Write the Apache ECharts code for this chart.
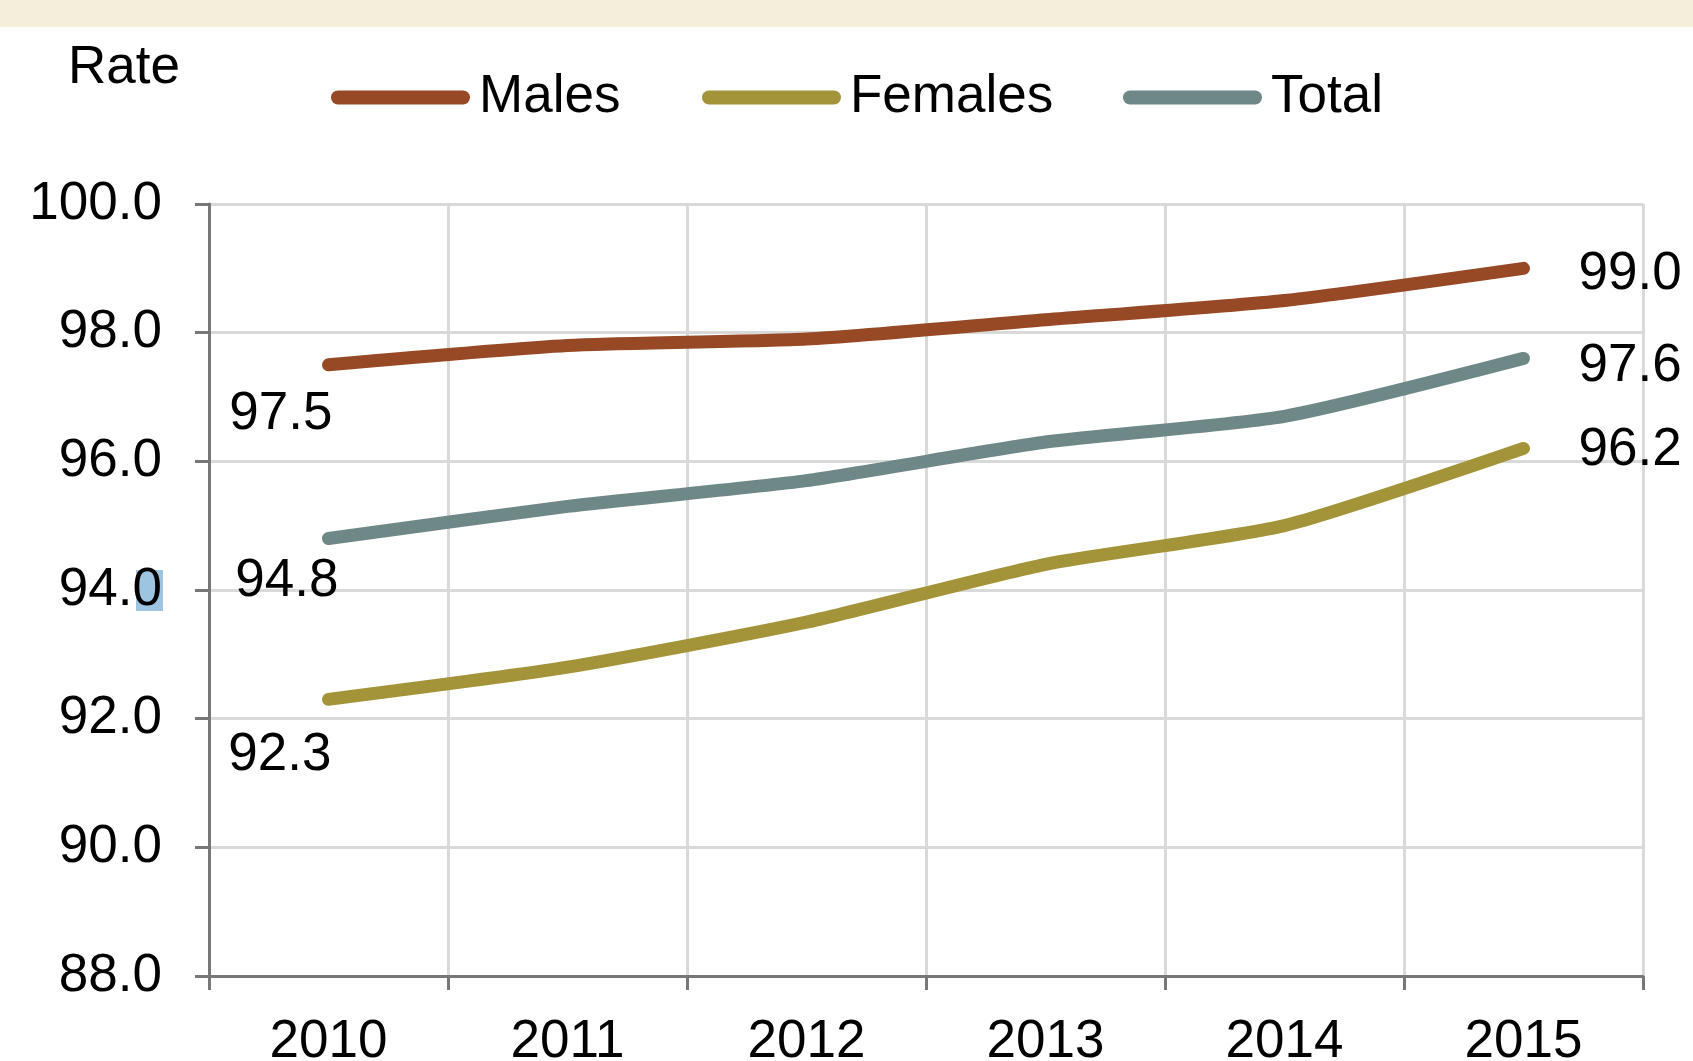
<!DOCTYPE html>
<html>
<head>
<meta charset="utf-8">
<script src="https://cdn.jsdelivr.net/npm/echarts@6/dist/echarts.min.js"></script>
<style>
html,body{margin:0;padding:0;background:#fff;}
#chart{width:1693px;height:1061px;}
</style>
</head>
<body>
<div id="chart"></div>
<script>
const years = ['2010','2011','2012','2013','2014','2015'];
const males = [97.5, 97.8, 97.9, 98.2, 98.5, 99.0];
const females = [92.3, 92.8, 93.5, 94.4, 95.0, 96.2];
const total = [94.8, 95.3, 95.7, 96.3, 96.7, 97.6];
const seriesNames = ['Males', 'Females', 'Total'];
const colors = ['#964924', '#A49439', '#6E8887'];

const FONT = 'Liberation Sans, Arial, sans-serif';
const FS = 53;

// first-point label offsets (below-left), last-point offsets (right); order: Males, Females, Total
const firstOffsets = [[4, 50], [3, 56], [10, 43]];
const lastOffsets = [[55, 6], [55, 2], [55, 8]];

function buildData(vals, idx) {
  return vals.map((v, i) => {
    if (i === 0) {
      return { value: v, label: { show: true, position: 'inside', align: 'right', verticalAlign: 'middle', offset: firstOffsets[idx], formatter: p => p.value.toFixed(1) } };
    }
    if (i === vals.length - 1) {
      return { value: v, label: { show: true, position: 'inside', align: 'left', verticalAlign: 'middle', offset: lastOffsets[idx], formatter: p => p.value.toFixed(1) } };
    }
    return v;
  });
}

const chart = echarts.init(document.getElementById('chart'), null, { renderer: 'canvas' });
const capsule = 'path://M7,0 L132,0 A7,7 0 0 1 132,14 L7,14 A7,7 0 0 1 7,0 Z';
const legendLefts = [326, 697, 1118];

const option = {
  backgroundColor: '#ffffff',
  animation: false,
  textStyle: { fontFamily: FONT },
  graphic: [
    { type: 'rect', left: 0, top: 0, z: -10, shape: { width: 1693, height: 27 }, style: { fill: '#F5EEDA' } },
    { type: 'rect', left: 136, top: 570, z: -10, shape: { width: 27, height: 41 }, style: { fill: '#9DC4E0' } },
    { type: 'text', left: 68, top: 42, style: { text: 'Rate', fontSize: FS, fontFamily: FONT, fill: '#000' } }
  ],
  legend: seriesNames.map((n, i) => ({
    data: [n],
    left: legendLefts[i],
    top: 66,
    icon: capsule,
    itemWidth: 139,
    itemHeight: 14,
    textStyle: { fontSize: FS, fontFamily: FONT, color: '#000', padding: [0, 0, 0, 4] },
    selectedMode: false
  })),
  grid: { left: 209, right: 50, top: 204, bottom: 85, containLabel: false, outerBoundsMode: 'none' },
  xAxis: {
    type: 'category',
    data: years,
    boundaryGap: true,
    axisLine: { lineStyle: { color: '#777', width: 3 } },
    axisTick: { show: true, length: 14, lineStyle: { color: '#777', width: 3 } },
    axisLabel: { fontSize: FS, color: '#000', margin: 40, fontFamily: FONT },
    splitLine: { show: true, lineStyle: { color: '#d9d9d9', width: 3 } }
  },
  yAxis: {
    type: 'value',
    min: 88, max: 100, interval: 2,
    axisLine: { show: true, lineStyle: { color: '#777', width: 3 } },
    axisTick: { show: true, length: 14, lineStyle: { color: '#777', width: 3 } },
    axisLabel: { fontSize: FS, color: '#000', margin: 47, fontFamily: FONT, formatter: v => v.toFixed(1) },
    splitLine: { show: true, lineStyle: { color: '#d9d9d9', width: 3 } }
  },
  series: [males, females, total].map((vals, idx) => ({
    name: seriesNames[idx],
    type: 'line',
    data: buildData(vals, idx),
    smooth: 0.2,
    symbol: 'circle',
    showSymbol: true,
    symbolSize: 2,
    itemStyle: { color: colors[idx] },
    color: colors[idx],
    lineStyle: { width: 13, color: colors[idx], cap: 'round', join: 'round' },
    label: { fontSize: FS, color: '#000', fontFamily: FONT },
    z: 3
  }))
};
chart.setOption(option);
</script>
</body>
</html>
